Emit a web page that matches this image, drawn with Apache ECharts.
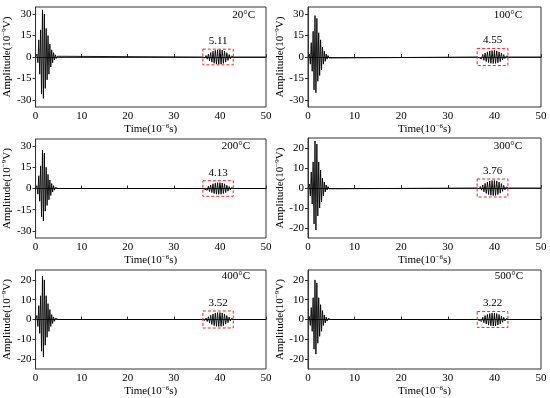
<!DOCTYPE html>
<html><head><meta charset="utf-8">
<script src="https://cdn.jsdelivr.net/npm/echarts@6/dist/echarts.min.js"></script>
<style>html,body{margin:0;padding:0;background:#fff}#c{width:550px;height:398px}</style>
</head><body><div id="c"></div>
<script>
// ---- data ----
const temperatures = ['20°C', '100°C', '200°C', '300°C', '400°C', '500°C'];
const echoPeakLabels = ['5.11', '4.55', '4.13', '3.76', '3.52', '3.22'];
const xTicks = [0, 10, 20, 30, 40, 50];
const yTicksLarge = [-30, -15, 0, 15, 30];
const yTicksSmall = [-20, -10, 0, 10, 20];
const yLimits = [35, 35, 35, 25, 25, 25];

// first (direct) wave packet: time of each extremum (10^-6 s)
const burstTimes = [0.3,0.5,0.7,0.9,1.1,1.3,1.5,1.7,1.9,2.1,2.3,2.5,2.7,2.9,3.1,3.3,3.5,3.7,3.9,4.1,4.3,4.5,4.7,4.9];
const burst20  = [2,-4,12,-12,19,-26,33,-29,30,-22,20,-16,15,-12,9,-7,5,-4,3,-2,1.5,-1,0.5,0];
const burst100 = [2,-5,10,-10,18,-23,29,-25,27,-17,17,-13,12,-9,7,-5,4,-3,2,-1.5,1,-0.7,0.4,0];
const burst200 = [2,-4,9,-9,16,-20,27,-23,25,-16,15,-12,10,-8,6,-5,3.5,-2.5,2,-1.2,0.8,-0.5,0.3,0];
const burst300 = [2,-4,8,-8,13,-18,23.5,-21,22,-14,13,-10,9,-7,5,-4,3,-2,1.5,-1,0.7,-0.4,0.2,0];
const burst400 = [2,-3.5,7,-7,12,-16,22,-19,20,-13,12,-9,8,-6,5,-3.5,2.5,-2,1.3,-0.9,0.6,-0.4,0.2,0];
const burst500 = [1.5,-3,6,-6,11,-15,20,-17.5,18.5,-12,11,-8.5,7.5,-6,4.5,-3,2.3,-1.7,1.2,-0.8,0.5,-0.3,0.2,0];

// second (echo) wave packet
const echoTimes = [36.5,36.75,37,37.25,37.5,37.75,38,38.25,38.5,38.75,39,39.25,39.5,39.75,40,40.25,40.5,40.75,41,41.25,41.5,41.75,42,42.25,42.5,42.75,43];
const echo20  = [0.3,-0.6,1.0,-1.5,2.0,-2.6,3.1,-3.6,4.0,-4.4,4.7,-4.9,5.05,-5.1,5.11,-5.0,4.8,-4.5,4.1,-3.6,3.0,-2.4,1.8,-1.2,0.7,-0.3,0];
const echo100 = [0.3,-0.5,0.9,-1.3,1.8,-2.3,2.8,-3.2,3.6,-3.9,4.2,-4.4,4.5,-4.55,4.55,-4.45,4.3,-4.0,3.6,-3.2,2.7,-2.1,1.6,-1.1,0.6,-0.3,0];
const echo200 = [0.2,-0.5,0.8,-1.2,1.6,-2.1,2.5,-2.9,3.3,-3.6,3.8,-4.0,4.1,-4.13,4.13,-4.05,3.9,-3.6,3.3,-2.9,2.4,-1.9,1.4,-1.0,0.6,-0.3,0];
const echo300 = [0.2,-0.4,0.7,-1.1,1.5,-1.9,2.3,-2.7,3.0,-3.3,3.5,-3.65,3.74,-3.76,3.76,-3.7,3.55,-3.3,3.0,-2.6,2.2,-1.7,1.3,-0.9,0.5,-0.2,0];
const echo400 = [0.2,-0.4,0.7,-1.0,1.4,-1.8,2.2,-2.5,2.8,-3.1,3.3,-3.45,3.5,-3.52,3.52,-3.45,3.3,-3.1,2.8,-2.4,2.0,-1.6,1.2,-0.8,0.5,-0.2,0];
const echo500 = [0.2,-0.4,0.6,-0.9,1.2,-1.6,2.0,-2.3,2.6,-2.85,3.0,-3.15,3.2,-3.22,3.22,-3.15,3.0,-2.8,2.5,-2.2,1.8,-1.4,1.1,-0.7,0.4,-0.2,0];

// dashed red marker boxes around the echo packet
const boxTime = [36.3, 42.9];
const boxHalfHeight = [5.5, 6, 5.5, 4.5, 4.3, 4];

const bursts = [burst20, burst100, burst200, burst300, burst400, burst500];
const echoes = [echo20, echo100, echo200, echo300, echo400, echo500];

// ---- layout ----
const FONT = '"Liberation Serif","Times New Roman",serif';
const grids = [
  {left: 34, top: 7, width: 232, height: 100},
  {left: 308, top: 7, width: 233, height: 100},
  {left: 34, top: 139, width: 232, height: 99},
  {left: 308, top: 138, width: 233, height: 100},
  {left: 34, top: 270, width: 232, height: 99},
  {left: 308, top: 270, width: 233, height: 99}
];
const titlePos = [
  {right: 295, top: 10}, {right: 28, top: 10},
  {right: 300, top: 141}, {right: 28, top: 141},
  {right: 300, top: 271}, {right: 27, top: 271}
];

const richSup = {
  n: {fontSize: 11, fontFamily: FONT, color: '#000', lineHeight: 13},
  s: {fontSize: 7, fontFamily: FONT, color: '#000', verticalAlign: 'top', lineHeight: 13, padding: [0, 0, 5, 0]}
};

const option = {
  animation: false,
  backgroundColor: '#fff',
  title: temperatures.map((t, i) => ({
    text: t, right: titlePos[i].right, top: titlePos[i].top, padding: 0,
    textStyle: {fontSize: 11, fontWeight: 'normal', fontFamily: FONT, color: '#000'}
  })),
  grid: grids.map(g => Object.assign({show: true, borderColor: '#333', borderWidth: 1, backgroundColor: 'transparent'}, g)),
  xAxis: grids.map((g, i) => ({
    type: 'value', gridIndex: i, min: xTicks[0], max: xTicks[xTicks.length - 1], interval: 10,
    name: '{n|Time(10}{s|−6}{n|s)}', nameLocation: 'middle', nameGap: 13,
    nameTextStyle: {rich: richSup},
    axisLine: {show: true, lineStyle: {color: '#333', width: 1}},
    axisTick: {show: true, inside: true, length: 3, lineStyle: {color: '#333'}},
    axisLabel: {fontSize: 11, fontFamily: FONT, color: '#000', margin: 4},
    splitLine: {show: false}
  })),
  yAxis: grids.map((g, i) => {
    const ticks = yLimits[i] === 35 ? yTicksLarge : yTicksSmall;
    return {
      type: 'value', gridIndex: i, min: -yLimits[i], max: yLimits[i],
      name: '{n|Amplitude(10}{s|−9}{n|V)}', nameLocation: 'middle', nameGap: 19,
      nameTextStyle: {rich: richSup},
      axisLine: {show: true, lineStyle: {color: '#333', width: 1}},
      axisTick: {show: true, inside: false, length: 3, customValues: ticks, lineStyle: {color: '#333'}},
      axisLabel: {fontSize: 11, fontFamily: FONT, color: '#000', margin: 4, customValues: ticks},
      splitLine: {show: false}
    };
  }),
  series: grids.map((g, i) => {
    const data = [[0, 0]];
    burstTimes.forEach((t, k) => data.push([t, bursts[i][k]]));
    data.push([boxTime[0], 0]);
    echoTimes.forEach((t, k) => data.push([t, echoes[i][k]]));
    data.push([50, 0]);
    return {
      type: 'line', xAxisIndex: i, yAxisIndex: i, data: data,
      showSymbol: false, symbol: 'none',
      lineStyle: {color: '#000', width: 0.9},
      markArea: {
        silent: true, z: 10,
        itemStyle: {color: 'rgba(0,0,0,0)', borderColor: '#e8262a', borderWidth: 1, borderType: [3, 2]},
        label: {show: true, position: 'top', distance: 2, formatter: echoPeakLabels[i],
                fontSize: 11, fontFamily: FONT, color: '#000'},
        data: [[{xAxis: boxTime[0], yAxis: boxHalfHeight[i]}, {xAxis: boxTime[1], yAxis: -boxHalfHeight[i]}]]
      }
    };
  })
};

const chart = echarts.init(document.getElementById('c'), null, {renderer: 'canvas'});
chart.setOption(option);
</script>
</body></html>
